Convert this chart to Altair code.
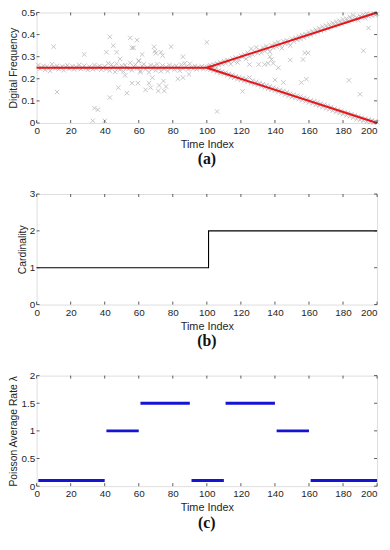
import altair as alt
import pandas as pd

# ---------------- data ----------------
band_t = list(range(1, 101))
band_v = [0.262,0.245,0.251,0.258,0.240,0.255,0.248,0.236,0.266,0.252,
          0.247,0.259,0.243,0.250,0.256,0.238,0.253,0.261,0.246,0.249,
          0.257,0.242,0.254,0.248,0.263,0.244,0.251,0.259,0.247,0.240,
          0.255,0.250,0.243,0.262,0.246,0.253,0.258,0.241,0.249,0.256,
          0.244,0.270,0.237,0.265,0.252,0.231,0.268,0.248,0.241,0.259,
          0.233,0.262,0.250,0.244,0.272,0.239,0.255,0.264,0.247,0.282,
          0.236,0.258,0.266,0.243,0.251,0.229,0.262,0.245,0.257,0.238,
          0.266,0.249,0.234,0.260,0.244,0.253,0.235,0.262,0.248,0.256,
          0.241,0.259,0.250,0.237,0.264,0.246,0.270,0.255,0.242,0.268,
          0.251,0.246,0.258,0.243,0.253,0.249,0.256,0.244,0.251,0.254]

branch_t = list(range(101, 201))
upper_v = [0.258,0.262,0.249,0.266,0.257,0.270,0.262,0.275,0.266,0.281,
           0.270,0.285,0.278,0.266,0.292,0.280,0.296,0.274,0.288,0.305,
           0.298,0.310,0.290,0.318,0.302,0.336,0.309,0.322,0.342,0.315,
           0.330,0.318,0.341,0.326,0.348,0.335,0.322,0.352,0.340,0.360,
           0.345,0.366,0.352,0.338,0.370,0.358,0.374,0.362,0.350,0.381,
           0.368,0.385,0.376,0.392,0.380,0.398,0.386,0.402,0.393,0.410,
           0.398,0.415,0.405,0.422,0.412,0.428,0.417,0.436,0.422,0.440,
           0.428,0.446,0.434,0.452,0.440,0.458,0.445,0.462,0.451,0.468,
           0.456,0.472,0.461,0.480,0.466,0.487,0.470,0.478,0.465,0.484,
           0.478,0.490,0.474,0.495,0.482,0.491,0.486,0.497,0.488,0.494]
lower_v = [0.245,0.240,0.252,0.236,0.244,0.230,0.238,0.226,0.233,0.222,
           0.228,0.215,0.222,0.208,0.218,0.204,0.212,0.198,0.207,0.195,
           0.203,0.190,0.199,0.186,0.206,0.180,0.192,0.176,0.186,0.172,
           0.180,0.166,0.176,0.160,0.170,0.155,0.166,0.150,0.160,0.146,
           0.155,0.140,0.150,0.134,0.145,0.128,0.140,0.122,0.133,0.118,
           0.128,0.113,0.124,0.108,0.120,0.103,0.114,0.098,0.110,0.093,
           0.102,0.088,0.098,0.082,0.094,0.077,0.088,0.072,0.083,0.066,
           0.078,0.062,0.072,0.056,0.066,0.050,0.060,0.045,0.055,0.040,
           0.050,0.034,0.045,0.030,0.040,0.024,0.035,0.018,0.030,0.014,
           0.024,0.010,0.020,0.006,0.016,0.004,0.012,0.002,0.008,0.003]

out_t = [10, 12, 28, 34, 36, 33, 40, 41, 43, 43, 45, 47, 48, 49, 52, 53, 55, 56, 57, 56,
         59, 59.5, 60, 62, 61, 64, 66, 67, 68, 69, 69.5, 70, 71.5, 72, 73, 74, 74.5, 75, 76,
         79, 83, 86, 86, 89.5, 100,
         106, 121, 125, 130.5, 134, 136, 137, 138, 139, 142, 149, 156.5, 157.5, 159.5,
         140, 145, 155.5, 158.5, 183.5, 190, 192, 195]
out_v = [0.345, 0.14, 0.31, 0.067, 0.06, 0.01, 0.01, 0.32, 0.39, 0.115, 0.35, 0.32, 0.16, 0.29, 0.215, 0.135, 0.385, 0.34, 0.34, 0.18,
         0.375, 0.18, 0.28, 0.31, 0.23, 0.15, 0.18, 0.16, 0.205, 0.345, 0.325, 0.315, 0.145, 0.17, 0.32, 0.305, 0.19, 0.145, 0.165,
         0.345, 0.2, 0.3, 0.205, 0.22, 0.365,
         0.052, 0.143, 0.265, 0.265, 0.265, 0.27, 0.3, 0.287, 0.27, 0.25, 0.285, 0.287, 0.317, 0.317,
         0.195, 0.183, 0.183, 0.198, 0.193, 0.13, 0.327, 0.43]

red_series = ["up", "up", "up", "down", "down"]
red_t = [0, 100, 200, 100, 200]
red_v = [0.25, 0.25, 0.5, 0.25, 0.0]

card_t = [0, 101, 200]
card_v = [1, 2, 2]

seg_start = [1, 41, 61, 91, 111, 141, 161]
seg_end = [40, 60, 90, 110, 140, 160, 200]
seg_rate = [0.1, 1, 1.5, 0.1, 1.5, 1, 0.1]

x_ticks = [0, 20, 40, 60, 80, 100, 120, 140, 160, 180, 200]
ya_ticks = [0, 0.1, 0.2, 0.3, 0.4, 0.5]
yb_ticks = [0, 1, 2, 3]
yc_ticks = [0, 0.5, 1, 1.5, 2]

# ---------------- style ----------------
W, H = 345, 112
TXT = "#262626"
FONT = "Liberation Sans"
TICK = 3

scatter_df = pd.DataFrame({
    "t": band_t + branch_t + branch_t + out_t,
    "v": band_v + upper_v + lower_v + out_v,
})
red_df = pd.DataFrame({"s": red_series, "t": red_t, "v": red_v})
card_df = pd.DataFrame({"t": card_t, "v": card_v})
seg_df = pd.DataFrame({"t": seg_start, "t2": seg_end, "v": seg_rate})

XAX = alt.Axis(values=x_ticks, ticks=False, domain=False, grid=False, labelPadding=3,
               labelOverlap=False, labelFlush=False,
               labelAlign={"condition": {"test": "datum.value >= 200", "value": "right"}, "value": "center"},
               labelFontSize=10, labelColor=TXT, labelFont=FONT,
               title="Time Index", titleFontSize=11, titleFont=FONT,
               titleFontWeight="normal", titleColor=TXT, titlePadding=3)


def yaxis(vals, title):
    return alt.Axis(values=vals, ticks=False, domain=False, grid=False, labelPadding=2,
                    labelOverlap=False, labelFlush=False,
                    format="~g", labelFontSize=10, labelColor=TXT, labelFont=FONT,
                    title=title, titleFontSize=10.5, titleFont=FONT,
                    titleFontWeight="normal", titleColor=TXT, titlePadding=2)


def inner_ticks(yvals, xs, ys, yax):
    xt = pd.DataFrame({"t": x_ticks})
    yt = pd.DataFrame({"v": yvals})
    c = "#333333"
    xb = alt.Chart(xt).mark_rule(color=c, strokeWidth=0.8).encode(
        x=alt.X("t:Q", scale=xs, axis=XAX), y=alt.value(H), y2=alt.value(H - TICK))
    xtp = alt.Chart(xt).mark_rule(color=c, strokeWidth=0.8).encode(
        x=alt.X("t:Q", scale=xs, axis=XAX), y=alt.value(0), y2=alt.value(TICK))
    yl = alt.Chart(yt).mark_rule(color=c, strokeWidth=0.8).encode(
        y=alt.Y("v:Q", scale=ys, axis=yax), x=alt.value(0), x2=alt.value(TICK))
    yr = alt.Chart(yt).mark_rule(color=c, strokeWidth=0.8).encode(
        y=alt.Y("v:Q", scale=ys, axis=yax), x=alt.value(W - TICK), x2=alt.value(W))
    return [xb, xtp, yl, yr]


def panel_title(s):
    return alt.TitleParams(s, orient="bottom", font="Liberation Serif", fontSize=16,
                           fontWeight="bold", color="#111111", offset=2)


xs = alt.Scale(domain=[0, 200], nice=False, zero=False)

# panel (a)
ysa = alt.Scale(domain=[0, 0.5], nice=False)
YA = yaxis(ya_ticks, "Digital Frequency")
cross = "M-1,-1L1,1M1,-1L-1,1"
pa_sc = alt.Chart(scatter_df).mark_point(shape=cross, filled=False, size=20,
                                          color="#a6a6a6", strokeWidth=0.9).encode(
    x=alt.X("t:Q", scale=xs, axis=XAX),
    y=alt.Y("v:Q", scale=ysa, axis=YA))
pa_red = alt.Chart(red_df).mark_line(color="#e8141c", strokeWidth=2).encode(
    x=alt.X("t:Q", scale=xs, axis=XAX), y=alt.Y("v:Q", scale=ysa, axis=YA), detail="s:N")
pa = alt.layer(pa_sc, pa_red, *inner_ticks(ya_ticks, xs, ysa, YA)).properties(
    width=W, height=H, title=panel_title("(a)"))

# panel (b)
ysb = alt.Scale(domain=[0, 3], nice=False)
YB = yaxis(yb_ticks, "Cardinality")
pb_line = alt.Chart(card_df).mark_line(color="#000000", strokeWidth=1.1, interpolate="step-after").encode(
    x=alt.X("t:Q", scale=xs, axis=XAX),
    y=alt.Y("v:Q", scale=ysb, axis=YB))
pb = alt.layer(pb_line, *inner_ticks(yb_ticks, xs, ysb, YB)).properties(
    width=W, height=H, title=panel_title("(b)"))

# panel (c)
ysc = alt.Scale(domain=[0, 2], nice=False)
YC = yaxis(yc_ticks, "Poisson Average Rate λ")
pc_seg = alt.Chart(seg_df).mark_rule(color="#1414d2", strokeWidth=3).encode(
    x=alt.X("t:Q", scale=xs, axis=XAX), x2="t2:Q",
    y=alt.Y("v:Q", scale=ysc, axis=YC))
pc = alt.layer(pc_seg, *inner_ticks(yc_ticks, xs, ysc, YC)).properties(
    width=W, height=H, title=panel_title("(c)"))

chart = alt.vconcat(pa, pb, pc, spacing=20).properties(
    padding={"top": -5, "left": 0, "right": 0, "bottom": 0}).configure_view(
    stroke="#333333", strokeWidth=0.8).configure(background="white")

chart.save("out.html", embed_options={"renderer": "svg", "actions": False})
